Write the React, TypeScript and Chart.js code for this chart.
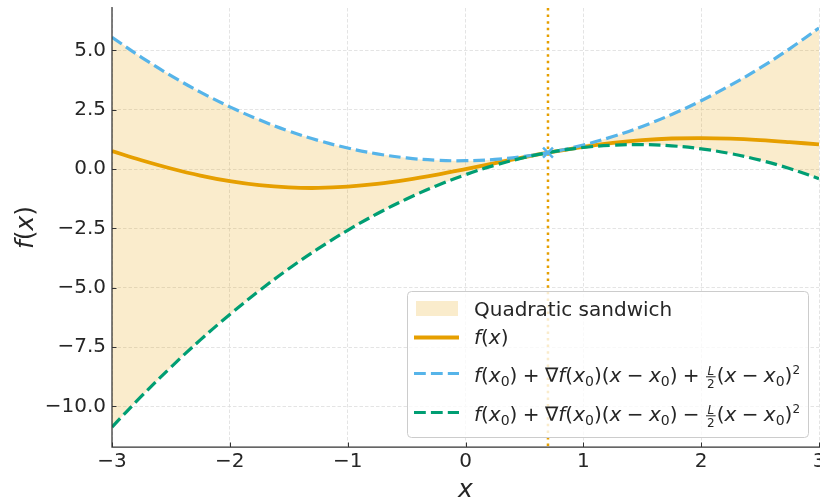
import React, { useEffect, useRef } from "react";
import { Chart, registerables } from "chart.js";

Chart.register(...registerables);

// Sample positions along x
const xs = [
  -3, -2.75, -2.5, -2.25, -2, -1.75, -1.5, -1.25, -1, -0.75, -0.5, -0.25, 0,
  0.25, 0.5, 0.75, 1, 1.25, 1.5, 1.75, 2, 2.25, 2.5, 2.75, 3,
];

// f(x)
const fVals = [
  0.759, 0.375, 0.027, -0.272, -0.509, -0.678, -0.772, -0.793, -0.741, -0.625,
  -0.454, -0.241, 0.0, 0.254, 0.504, 0.738, 0.941, 1.105, 1.222, 1.29, 1.309,
  1.284, 1.223, 1.138, 1.041,
];

// Upper quadratic bound
const upperVals = [
  5.559, 4.713, 3.942, 3.246, 2.624, 2.078, 1.607, 1.21, 0.889, 0.643, 0.471,
  0.375, 0.354, 0.408, 0.536, 0.74, 1.019, 1.372, 1.801, 2.305, 2.883, 3.537,
  4.266, 5.07, 5.948,
];

// Lower quadratic bound
const lowerVals = [
  -10.869, -9.57, -8.346, -7.198, -6.124, -5.125, -4.201, -3.353, -2.579,
  -1.88, -1.257, -0.708, -0.234, 0.165, 0.488, 0.737, 0.911, 1.009, 1.033,
  0.982, 0.855, 0.654, 0.378, 0.027, -0.4,
];

// Expansion point
const X0 = 0.7;
const F_X0 = 0.693;

const xTicks = [-3, -2, -1, 0, 1, 2, 3];
const yTicks = [-10, -7.5, -5, -2.5, 0, 2.5, 5];
const X_MIN = -3;
const X_MAX = 3;
const Y_MIN = -11.71;
const Y_MAX = 6.79;

const ORANGE = "#E69F00";
const SKY = "#56B4E9";
const GREEN = "#009E73";
const BAND = "rgba(230,159,0,0.2)";
const TEXT = "#262626";
const FAMILY = '"DejaVu Sans"';

const minus = (v: number, digits: number) =>
  (v < 0 ? "\u2212" : "") + Math.abs(v).toFixed(digits);

type Seg = {
  t?: string;
  it?: boolean;
  sub?: boolean;
  sup?: boolean;
  num?: string;
  den?: string;
  gap?: number;
};

function setFont(ctx: CanvasRenderingContext2D, size: number, italic: boolean) {
  ctx.font = `${italic ? "italic " : ""}${size}px ${FAMILY}`;
}

// Draws a line of simple math text (italics, subscripts, superscripts, fractions)
function drawRich(
  ctx: CanvasRenderingContext2D,
  segs: Seg[],
  x: number,
  y: number,
  size: number,
  measureOnly = false
): number {
  let cx = x;
  ctx.textAlign = "left";
  ctx.textBaseline = "alphabetic";
  for (const s of segs) {
    if (s.gap !== undefined) {
      cx += s.gap * size;
      continue;
    }
    if (s.num !== undefined) {
      const fs = size * 0.6;
      setFont(ctx, fs, true);
      const wn = ctx.measureText(s.num).width;
      setFont(ctx, fs, false);
      const wd = ctx.measureText(s.den || "").width;
      const w = Math.max(wn, wd) + 2;
      const barY = y - size * 0.235;
      if (!measureOnly) {
        setFont(ctx, fs, true);
        ctx.fillText(s.num, cx + 1 + (w - wn) / 2, barY - 2);
        setFont(ctx, fs, false);
        ctx.fillText(s.den || "", cx + 1 + (w - wd) / 2, barY + fs * 0.73 + 2);
        ctx.fillRect(cx + 1, barY - 0.5, w, 1);
      }
      cx += w + 2;
      continue;
    }
    const fs = s.sub ? size * 0.7 : s.sup ? size * 0.6 : size;
    const dy = s.sub ? size * 0.2 : s.sup ? -size * 0.37 : 0;
    setFont(ctx, fs, !!s.it);
    if (!measureOnly) ctx.fillText(s.t || "", cx, y + dy);
    cx += ctx.measureText(s.t || "").width;
  }
  return cx - x;
}

const G = 0.27; // spacing around binary operators, in em
const op = (t: string): Seg[] => [{ gap: G }, { t }, { gap: G }];

const fx: Seg[] = [{ t: "f", it: true }, { t: "(" }, { t: "x", it: true }, { t: ")" }];
const x0: Seg[] = [{ t: "x", it: true }, { t: "0", sub: true }];
const xMinusX0: Seg[] = [
  { t: "(" },
  { t: "x", it: true },
  ...op("\u2212"),
  ...x0,
  { t: ")" },
];
const linearPart: Seg[] = [
  { t: "f", it: true },
  { t: "(" },
  ...x0,
  { t: ")" },
  ...op("+"),
  { t: "\u2207" },
  { t: "f", it: true },
  { t: "(" },
  ...x0,
  { t: ")" },
  ...xMinusX0,
];
const upperLabel: Seg[] = [
  ...linearPart,
  ...op("+"),
  { num: "L", den: "2" },
  ...xMinusX0,
  { t: "2", sup: true },
];
const lowerLabel: Seg[] = [
  ...linearPart,
  ...op("\u2212"),
  { num: "L", den: "2" },
  ...xMinusX0,
  { t: "2", sup: true },
];

const decorPlugin = {
  id: "decor",
  beforeDatasetsDraw(chart: any) {
    const { ctx, chartArea, scales } = chart;
    const px = scales.x.getPixelForValue(X0);
    ctx.save();
    ctx.strokeStyle = ORANGE;
    ctx.lineWidth = 2.5;
    ctx.setLineDash([2.5, 4.1]);
    ctx.beginPath();
    ctx.moveTo(px, chartArea.top);
    ctx.lineTo(px, chartArea.bottom);
    ctx.stroke();
    ctx.restore();
  },
  afterDraw(chart: any) {
    const { ctx, chartArea, scales } = chart;
    const { left, right, top, bottom } = chartArea;
    ctx.save();

    // spines and inward ticks
    ctx.strokeStyle = "#333333";
    ctx.lineWidth = 1.25;
    ctx.setLineDash([]);
    ctx.beginPath();
    ctx.moveTo(left, top - 1);
    ctx.lineTo(left, bottom);
    ctx.lineTo(right + 2, bottom);
    ctx.stroke();
    ctx.lineWidth = 1;
    ctx.beginPath();
    for (const v of xTicks) {
      const p = Math.round(scales.x.getPixelForValue(v)) + 0.5;
      ctx.moveTo(p, bottom);
      ctx.lineTo(p, bottom - 4.5);
    }
    for (const v of yTicks) {
      const p = Math.round(scales.y.getPixelForValue(v)) + 0.5;
      ctx.moveTo(left, p);
      ctx.lineTo(left + 4.5, p);
    }
    ctx.stroke();

    // axis titles
    ctx.fillStyle = TEXT;
    setFont(ctx, 25, true);
    ctx.textAlign = "center";
    ctx.textBaseline = "alphabetic";
    ctx.fillText("x", (left + right) / 2, 497);

    ctx.save();
    ctx.translate(33, (top + bottom) / 2);
    ctx.rotate(-Math.PI / 2);
    const wf = drawRich(ctx, fx, 0, 0, 25, true);
    drawRich(ctx, fx, -wf / 2, 0, 25);
    ctx.restore();

    // legend
    const lx = 407;
    const ly = 291;
    const lw = 401;
    const lh = 146;
    ctx.beginPath();
    ctx.roundRect(lx + 0.5, ly + 0.5, lw, lh, 4);
    ctx.fillStyle = "rgba(255,255,255,0.8)";
    ctx.fill();
    ctx.strokeStyle = "#cccccc";
    ctx.lineWidth = 1;
    ctx.stroke();

    const hx1 = 414;
    const hx2 = 459;
    const tx = 474;

    ctx.fillStyle = BAND;
    ctx.fillRect(416, 301, 42, 15);

    const handle = (y: number, color: string, width: number, dash: number[]) => {
      ctx.strokeStyle = color;
      ctx.lineWidth = width;
      ctx.setLineDash(dash);
      ctx.beginPath();
      ctx.moveTo(hx1, y);
      ctx.lineTo(hx2, y);
      ctx.stroke();
    };
    handle(337.5, ORANGE, 3.8, []);
    handle(373.5, SKY, 3.2, [11.8, 5.1]);
    handle(412.5, GREEN, 3.2, [11.8, 5.1]);
    ctx.setLineDash([]);

    ctx.fillStyle = TEXT;
    setFont(ctx, 20, false);
    ctx.textAlign = "left";
    ctx.textBaseline = "alphabetic";
    ctx.fillText("Quadratic sandwich", tx, 316);
    drawRich(ctx, fx, tx, 344, 20);
    drawRich(ctx, upperLabel, tx, 381.5, 20);
    drawRich(ctx, lowerLabel, tx, 420.5, 20);

    ctx.restore();
  },
};

export default function App() {
  const canvasRef = useRef<HTMLCanvasElement | null>(null);

  useEffect(() => {
    const canvas = canvasRef.current;
    if (!canvas) return;

    const pts = (vals: number[]) => xs.map((x, i) => ({ x, y: vals[i] }));

    const chart = new Chart(canvas, {
      type: "line",
      data: {
        datasets: [
          {
            label: "x0",
            data: [{ x: X0, y: F_X0 }],
            showLine: false,
            pointStyle: "crossRot",
            pointRadius: 7,
            pointHoverRadius: 7,
            borderColor: SKY,
            backgroundColor: SKY,
            pointBorderWidth: 2.5,
            borderWidth: 2.5,
          },
          {
            label: "lower",
            data: pts(lowerVals),
            borderColor: GREEN,
            borderWidth: 3.2,
            borderDash: [11.8, 5.1],
            pointRadius: 0,
            tension: 0.4,
            fill: false,
          },
          {
            label: "upper",
            data: pts(upperVals),
            borderColor: SKY,
            borderWidth: 3.2,
            borderDash: [11.8, 5.1],
            pointRadius: 0,
            tension: 0.4,
            fill: 1,
            backgroundColor: BAND,
          },
          {
            label: "f(x)",
            data: pts(fVals),
            borderColor: ORANGE,
            borderWidth: 3.8,
            pointRadius: 0,
            tension: 0.4,
            fill: false,
          },
        ],
      },
      options: {
        responsive: false,
        animation: false,
        devicePixelRatio: 1,
        events: [],
        layout: {
          autoPadding: false,
          padding: { top: 8, right: 1, left: 0, bottom: 0 },
        },
        plugins: {
          legend: { display: false },
          tooltip: { enabled: false },
          filler: { drawTime: "beforeDatasetsDraw" },
        } as any,
        scales: {
          x: {
            type: "linear",
            min: X_MIN,
            max: X_MAX,
            afterBuildTicks: (s: any) => {
              s.ticks = xTicks.map((value) => ({ value }));
            },
            afterFit: (s: any) => {
              s.height = 55;
              s.paddingLeft = 0;
              s.paddingRight = 0;
            },
            grid: {
              color: "#dddddd",
              lineWidth: 0.8,
              drawTicks: false,
            },
            border: { display: false, dash: [3.5, 2] },
            ticks: {
              padding: 3,
              maxRotation: 0,
              autoSkip: false,
              color: TEXT,
              font: { family: "DejaVu Sans", size: 20 },
              callback: (v: any) => minus(Number(v), 0),
            },
          },
          y: {
            type: "linear",
            min: Y_MIN,
            max: Y_MAX,
            afterBuildTicks: (s: any) => {
              s.ticks = yTicks.map((value) => ({ value }));
            },
            afterFit: (s: any) => {
              s.width = 112;
              s.paddingTop = 0;
              s.paddingBottom = 0;
            },
            grid: {
              color: "#dddddd",
              lineWidth: 0.8,
              drawTicks: false,
            },
            border: { display: false, dash: [3.5, 2] },
            ticks: {
              padding: 6,
              autoSkip: false,
              color: TEXT,
              font: { family: "DejaVu Sans", size: 20 },
              callback: (v: any) => minus(Number(v), 1),
            },
          },
        },
      },
      plugins: [decorPlugin],
    });

    return () => chart.destroy();
  }, []);

  return (
    <div style={{ position: "absolute", left: 0, top: 0, width: 820, height: 502 }}>
      <canvas ref={canvasRef} width={820} height={502} style={{ display: "block" }} />
    </div>
  );
}
